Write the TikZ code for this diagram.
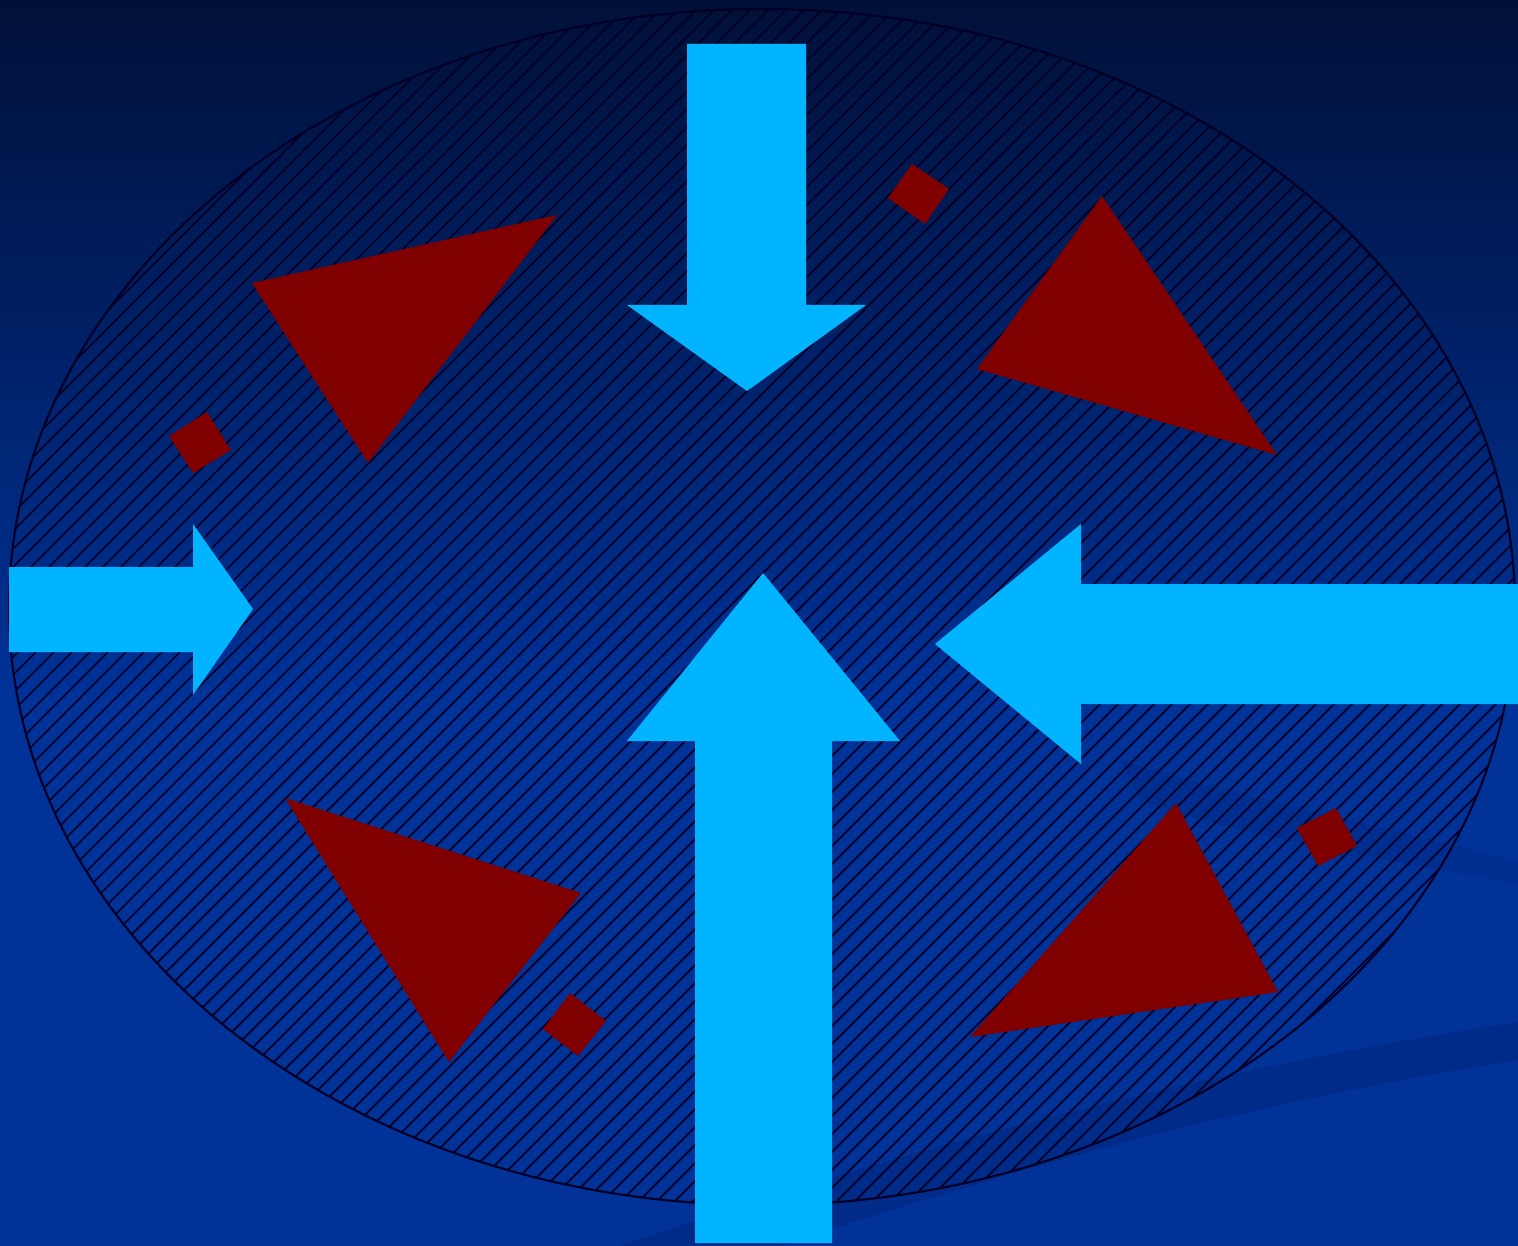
\documentclass[tikz,border=0pt]{standalone}
\usepackage{tikz}
\definecolor{bgtop}{RGB}{0,16,56}
\definecolor{bgbot}{RGB}{0,50,152}
\definecolor{swoosh}{RGB}{0,30,110}
\definecolor{arrowcyan}{RGB}{0,180,255}
\definecolor{chipred}{RGB}{128,0,0}

\begin{document}
\begin{tikzpicture}[
    x=0.01cm, y=-0.01cm,
    hatch/.style={draw=black!85!blue, line width=0.5pt},
    rim/.style={draw=black!85!blue, line width=0.6pt},
    bigarrow/.style={fill=arrowcyan},
    wedge/.style={fill=chipred},
    chip/.style={fill=chipred},
    band/.style={fill=swoosh, opacity=0.35}
]
\useasboundingbox (0,0) rectangle (1518,1246);
% background
\fill[top color=bgtop, bottom color=bgbot] (0,0) rectangle (1518,700);
\fill[bgbot] (0,699) rectangle (1518,1246);
\fill[band] (620,1246) .. controls (900,1150) and (1200,1070) .. (1518,1022)
    -- (1518,1060) .. controls (1200,1110) and (950,1190) .. (780,1246) -- cycle;
\fill[band, opacity=0.18] (1120,760) .. controls (1250,800) and (1400,830) .. (1518,862)
    -- (1518,885) .. controls (1400,860) and (1250,840) .. (1140,800) -- cycle;

% hatched ellipse
\coordinate (centre) at (762,607);
\begin{scope}
    \clip (centre) ellipse [x radius=753, y radius=598];
    \foreach \c in {400,418,...,2350}
        \draw[hatch] (\c,0) -- ++(-1250,1250);
\end{scope}
\draw[rim] (centre) ellipse [x radius=753, y radius=598];

% triangles
\fill[wedge] (252,283) -- (557,215) -- (368,463) -- cycle;
\fill[wedge] (1102,196) -- (1277,455) -- (977,369) -- cycle;
\fill[wedge] (285,798) -- (581,893) -- (449,1062) -- cycle;
\fill[wedge] (1176,803) -- (1278,992) -- (970,1037) -- cycle;

% small squares
\fill[chip] (169,436) -- (207,412) -- (231,450) -- (193,473) -- cycle;
\fill[chip] (888,198) -- (912,164) -- (949,189) -- (925,224) -- cycle;
\fill[chip] (543,1029) -- (570,993) -- (606,1021) -- (578,1056) -- cycle;
\fill[chip] (1297,828) -- (1336,808) -- (1357,846) -- (1318,866) -- cycle;

% arrows
\fill[bigarrow] (687,44) -- (806,44) -- (806,305) -- (866,305) -- (747,391)
    -- (627,305) -- (687,305) -- cycle;
\fill[bigarrow] (695,1243) -- (832,1243) -- (832,741) -- (900,741) -- (763,573)
    -- (627,741) -- (695,741) -- cycle;
\fill[bigarrow] (9,567) -- (193,567) -- (193,524) -- (253,609) -- (193,695)
    -- (193,652) -- (9,652) -- cycle;
\fill[bigarrow] (1518,584) -- (1081,584) -- (1081,524) -- (935,644) -- (1081,764)
    -- (1081,704) -- (1518,704) -- cycle;
\end{tikzpicture}
\end{document}
